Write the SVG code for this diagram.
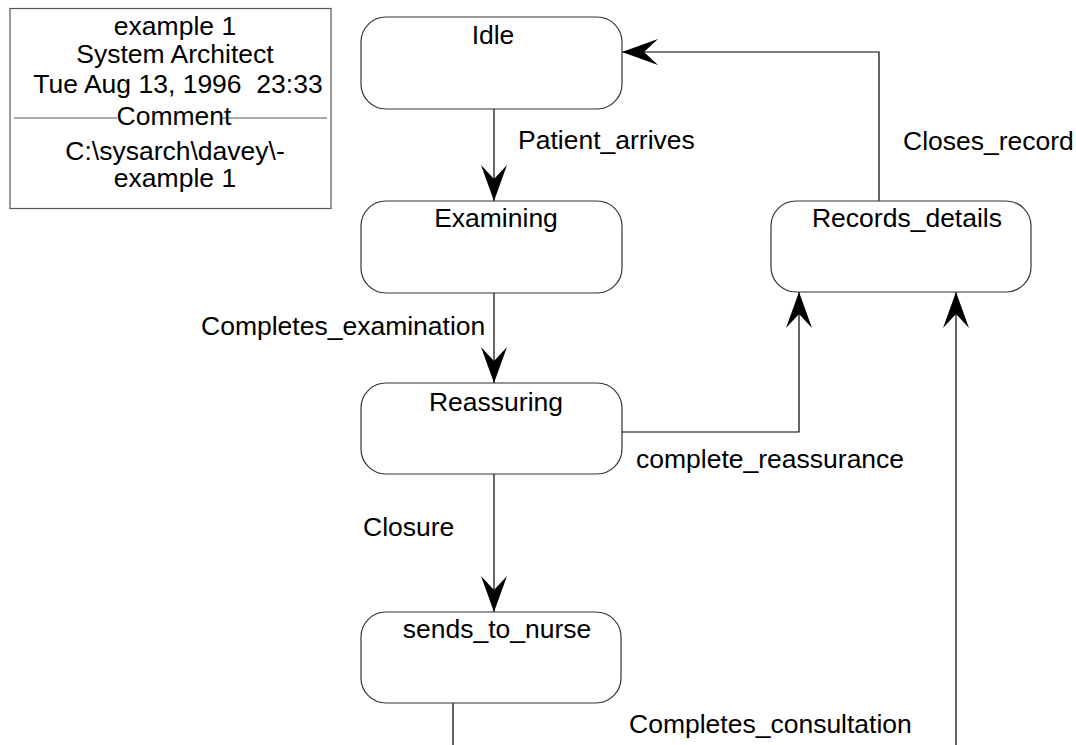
<svg xmlns="http://www.w3.org/2000/svg" width="1076" height="745" viewBox="0 0 1076 745">
  <style>
    text { font-family: "Liberation Sans", Arial, sans-serif; font-size: 26.5px; fill: #000; }
    .title { text-anchor: middle; }
    .state { fill: #fff; stroke: #333; stroke-width: 1.2; }
    .frame { fill: #fff; stroke: #555; stroke-width: 1.2; }
    .link { fill: none; stroke: #000; stroke-width: 1.2; }
  </style>
  <defs>
    <marker id="arrow" markerUnits="userSpaceOnUse" markerWidth="40" markerHeight="30" refX="0" refY="0" viewBox="-38 -15 40 30" orient="auto">
      <path d="M0,0 L-36,-13 L-22,0 L-36,13 Z" fill="#000"/>
    </marker>
  </defs>

  <rect width="1076" height="745" fill="#fff"/>

  <!-- header block -->
  <g id="legend">
    <rect class="frame" x="10" y="8.5" width="321" height="200"/>
    <text class="title" x="175" y="35">example 1</text>
    <text class="title" x="175" y="63">System Architect</text>
    <text class="title" x="178" y="92.5" xml:space="preserve">Tue Aug 13, 1996  23:33</text>
    <line x1="14" y1="118" x2="117" y2="118" stroke="#555" stroke-width="1.2"/>
    <line x1="222" y1="118" x2="327" y2="118" stroke="#555" stroke-width="1.2"/>
    <text class="title" x="174" y="125">Comment</text>
    <text class="title" x="175" y="160">C:\sysarch\davey\-</text>
    <text class="title" x="175" y="187">example 1</text>
  </g>

  <!-- transitions -->
  <g id="connectors">
    <path class="link" d="M494,109 V201" marker-end="url(#arrow)"/>
    <text x="518" y="149">Patient_arrives</text>

    <path class="link" d="M879,201 V52 H622" marker-end="url(#arrow)"/>
    <text x="903" y="150">Closes_record</text>

    <path class="link" d="M494,293 V383" marker-end="url(#arrow)"/>
    <text x="201" y="335">Completes_examination</text>

    <path class="link" d="M622,432 H799 V292" marker-end="url(#arrow)"/>
    <text x="636" y="468">complete_reassurance</text>

    <path class="link" d="M494,474 V612" marker-end="url(#arrow)"/>
    <text x="363" y="536">Closure</text>

    <path class="link" d="M453,703 V770 H956 V292" marker-end="url(#arrow)"/>
    <text x="629" y="733">Completes_consultation</text>
  </g>

  <!-- states -->
  <g id="idle">
    <rect class="state" x="361" y="17" width="261" height="92" rx="25"/>
    <text class="title" x="493" y="44">Idle</text>
  </g>
  <g id="examining">
    <rect class="state" x="361" y="201" width="261" height="92" rx="25"/>
    <text class="title" x="496" y="227">Examining</text>
  </g>
  <g id="records_details">
    <rect class="state" x="771" y="201" width="260" height="91" rx="25"/>
    <text class="title" x="907" y="227">Records_details</text>
  </g>
  <g id="reassuring">
    <rect class="state" x="361" y="383" width="261" height="91" rx="25"/>
    <text class="title" x="496" y="411">Reassuring</text>
  </g>
  <g id="sends_to_nurse">
    <rect class="state" x="361" y="612" width="260" height="91" rx="25"/>
    <text class="title" x="497" y="638">sends_to_nurse</text>
  </g>
</svg>
